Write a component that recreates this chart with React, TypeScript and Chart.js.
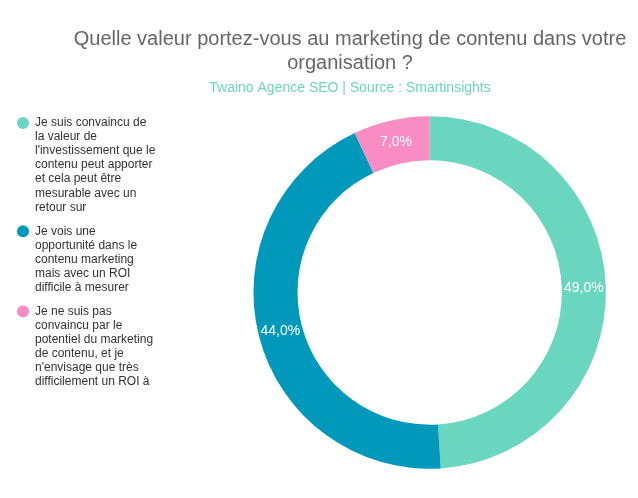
import React, { useEffect, useRef } from "react";
import { Chart, registerables } from "chart.js";

Chart.register(...registerables);

const titleLines = ["Quelle valeur portez-vous au marketing de contenu dans votre", "organisation ?"];
const subtitleText = "Twaino Agence SEO | Source : Smartinsights";

const categories: string[][] = [
  [
    "Je suis convaincu de",
    "la valeur de",
    "l'investissement que le",
    "contenu peut apporter",
    "et cela peut être",
    "mesurable avec un",
    "retour sur",
  ],
  [
    "Je vois une",
    "opportunité dans le",
    "contenu marketing",
    "mais avec un ROI",
    "difficile à mesurer",
  ],
  [
    "Je ne suis pas",
    "convaincu par le",
    "potentiel du marketing",
    "de contenu, et je",
    "n'envisage que très",
    "difficilement un ROI à",
  ],
];
const values = [49, 44, 7];
const valueLabels = ["49,0%", "44,0%", "7,0%"];
const colors = ["#6AD6BF", "#0099BC", "#F98CC2"];

const FONT = '"Liberation Sans", Arial, sans-serif';
const LEGEND_EXTRA_WIDTH = 56;

const legendWidthPlugin = {
  id: "legendWidth",
  beforeInit(chart: any) {
    const legend = chart.legend;
    if (!legend) return;
    const origFit = legend.fit;
    legend.fit = function () {
      origFit.call(this);
      this.width += LEGEND_EXTRA_WIDTH;
    };
  },
};

const titlePlugin = {
  id: "customTitle",
  afterDraw(chart: any) {
    const ctx = chart.ctx;
    ctx.save();
    ctx.textAlign = "center";
    ctx.textBaseline = "middle";
    ctx.fillStyle = "#666666";
    ctx.font = `20px ${FONT}`;
    ctx.fillText(titleLines[0], 350, 39);
    ctx.fillText(titleLines[1], 350, 63);
    ctx.fillStyle = "#6AD6BF";
    ctx.font = `14px ${FONT}`;
    ctx.fillText(subtitleText, 350, 88);
    ctx.restore();
  },
};

const valueLabelPlugin = {
  id: "valueLabels",
  afterDatasetsDraw(chart: any) {
    const ctx = chart.ctx;
    const meta = chart.getDatasetMeta(0);
    ctx.save();
    ctx.textAlign = "center";
    ctx.textBaseline = "middle";
    ctx.fillStyle = "#ffffff";
    ctx.font = `14px ${FONT}`;
    meta.data.forEach((arc: any, i: number) => {
      const p = arc.tooltipPosition();
      ctx.fillText(valueLabels[i], p.x, p.y);
    });
    ctx.restore();
  },
};

export default function App() {
  const ref = useRef<HTMLCanvasElement | null>(null);

  useEffect(() => {
    if (!ref.current) return;
    const chart = new Chart(ref.current, {
      type: "doughnut",
      data: {
        labels: categories as any,
        datasets: [
          {
            data: values,
            backgroundColor: colors,
            borderWidth: 0,
          },
        ],
      },
      options: {
        responsive: false,
        animation: false,
        cutout: "75%",
        radius: "95%",
        layout: { padding: { top: 107, left: 7, right: 0, bottom: 20 } },
        plugins: {
          title: { display: false },
          tooltip: { enabled: false },
          legend: {
            position: "left",
            align: "start",
            labels: {
              usePointStyle: true,
              pointStyle: "circle",
              boxWidth: 12,
              boxHeight: 8.5,
              padding: 10,
              color: "#333333",
              font: { family: FONT, size: 12, lineHeight: 1.17 },
            },
          },
        },
      },
      plugins: [legendWidthPlugin, titlePlugin, valueLabelPlugin],
    });
    return () => chart.destroy();
  }, []);

  return (
    <div style={{ width: 638, height: 498, margin: -8, background: "#fff" }}>
      <canvas ref={ref} width={638} height={498} style={{ display: "block" }} />
    </div>
  );
}
